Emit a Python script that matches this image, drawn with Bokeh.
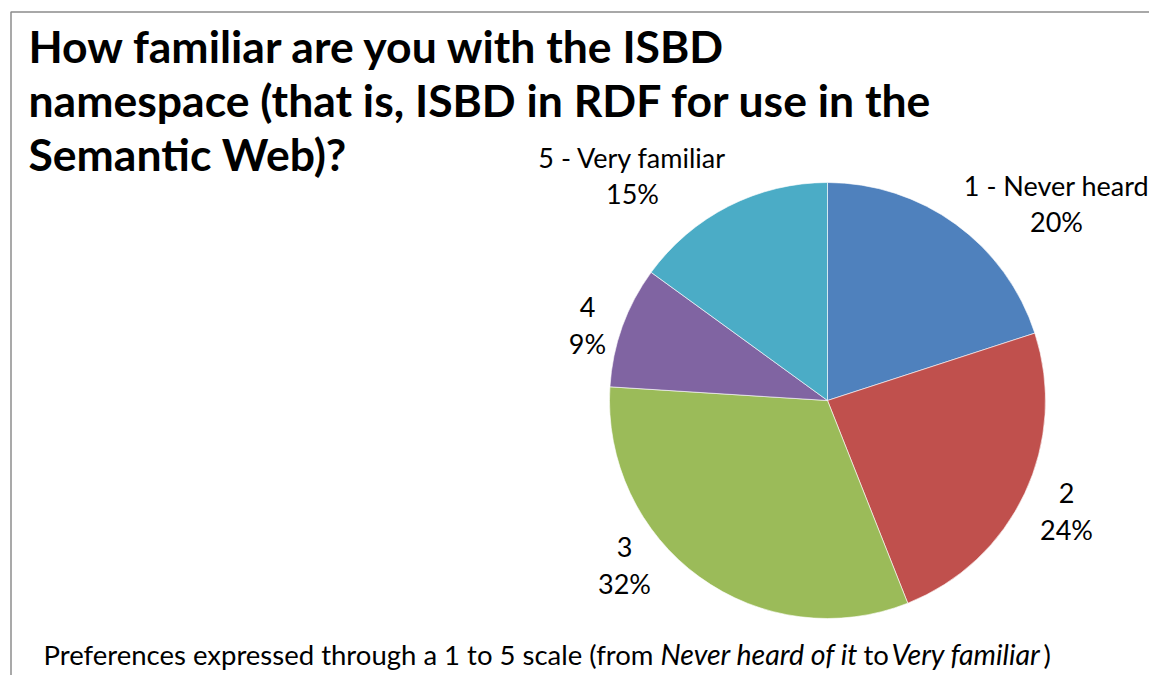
import math

from bokeh.core.properties import value
from bokeh.embed import file_html
from bokeh.models import ColumnDataSource, Range1d
from bokeh.plotting import figure
from bokeh.resources import INLINE

# Survey answers (share of respondents, %)
categories = ["1 - Never heard", "2", "3", "4", "5 - Very familiar"]
shares = [20, 24, 32, 9, 15]
colors = ["#4F81BD", "#C0504D", "#9BBB59", "#8064A2", "#4BACC6"]

title_lines = [
    "How familiar are you with the ISBD",
    "namespace (that is, ISBD in RDF for use in the",
    "Semantic Web)?",
]
footer_parts = [
    ("Preferences expressed through a 1 to 5 scale (from ", "normal"),
    ("Never heard of it", "italic"),
    ("to", "normal"),
    ("Very familiar", "italic"),
    (")", "normal"),
]

W, H = 1149, 675
FONT = "Lato"
BASE_SHIFT = 0.38  # em offset between the requested and drawn baseline


def fy(py):
    """Convert a top-down pixel row to the figure's y coordinate."""
    return H - py


def base_y(py, size):
    """y coordinate that puts a text's baseline on pixel row py."""
    return fy(py - BASE_SHIFT * size)


p = figure(width=W, height=H, x_range=Range1d(0, W), y_range=Range1d(0, H),
           output_backend="svg", toolbar_location=None, min_border=0)
p.axis.visible = False
p.grid.visible = False
p.outline_line_color = None
p.background_fill_color = "white"
p.border_fill_color = "white"

# chart frame (only its top and left edges fall inside the page)
p.line(x=[10.5, 10.5, W + 5], y=[fy(H + 5), fy(11.5), fy(11.5)],
       line_color="#8C8C8C", line_width=1.5)

# pie: slices run clockwise from twelve o'clock
cx, cy, r = 827, fy(400), 218
total = sum(shares)
starts, ends = [], []
cum = 0
for v in shares:
    a_end = math.pi / 2 - 2 * math.pi * cum / total
    a_start = math.pi / 2 - 2 * math.pi * (cum + v) / total
    starts.append(a_start)
    ends.append(a_end)
    cum += v
src = ColumnDataSource(dict(start=starts, end=ends, color=colors,
                            cat=categories, share=shares))
p.wedge(x=cx, y=cy, radius=r, start_angle="start", end_angle="end",
        direction="anticlock", fill_color="color", line_color="white",
        line_width=0.6, source=src)

# data labels: category on the first line, percentage below
LABEL_SIZE = 27
label_anchor = [(1056, 195), (1066, 503), (624, 557), (587, 317), (632, 167)]
line_gap = 36
lx, ly1, ly2, t1, t2 = [], [], [], [], []
for (ax, ay), cat, v in zip(label_anchor, categories, shares):
    lx.append(ax)
    ly1.append(base_y(ay, LABEL_SIZE))
    ly2.append(base_y(ay + line_gap, LABEL_SIZE))
    t1.append(cat)
    t2.append(f"{v}%")
for ys, ts in ((ly1, t1), (ly2, t2)):
    p.text(x=lx, y=ys, text=ts, text_font=value(FONT),
           text_font_size=f"{LABEL_SIZE}px", text_align="center",
           text_baseline="alphabetic", text_color="black")

# title
TITLE_SIZE = 44.5
title_base = [62, 116, 170]
p.text(x=[28] * 3, y=[base_y(b, TITLE_SIZE) for b in title_base],
       text=title_lines, text_font=value(FONT),
       text_font_size=f"{TITLE_SIZE}px", text_font_style="bold",
       text_align="left", text_baseline="alphabetic", text_color="black")

# footer note with italic scale ends
footer_x = [43, 660, 863, 891, 1043]
footer_size = {"normal": 27.5, "italic": 28.5}
for (txt, style), fx in zip(footer_parts, footer_x):
    size = footer_size[style]
    p.text(x=[fx], y=[base_y(664, size)], text=[txt], text_font=value(FONT),
           text_font_size=f"{size}px", text_font_style=style,
           text_align="left", text_baseline="alphabetic", text_color="black")

open("out.html", "w").write(file_html(p, INLINE))
